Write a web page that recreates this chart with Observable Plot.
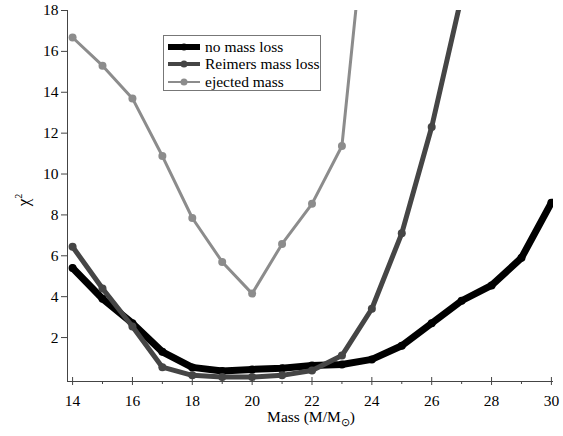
<!DOCTYPE html>
<html><head><meta charset="utf-8">
<script src="https://cdn.jsdelivr.net/npm/d3@7"></script>
<script src="https://cdn.jsdelivr.net/npm/@observablehq/plot@0.6"></script>
<style>
body{margin:0;background:#fff;font-family:'Liberation Serif',serif;}
#wrap{position:relative;width:563px;height:436px;}
#legend{position:absolute;left:163px;top:35px;width:158px;height:56px;border:1px solid #777;background:#fff;font-family:'Liberation Serif',serif;font-size:15.5px;box-sizing:border-box;padding-top:2px;}
#legend .row{display:flex;align-items:center;height:17.5px;}
#legend svg{margin-left:3px;margin-right:4px;}
svg text{font-family:'Liberation Serif',serif;}
</style></head>
<body><div id="wrap"><div id="legend"></div></div>
<script>
const masses = [14,15,16,17,18,19,20,21,22,23,24,25,26,27,28,29,30];
const noMassLoss = [5.4,3.9,2.7,1.3,0.54,0.36,0.44,0.5,0.63,0.68,0.93,1.6,2.7,3.8,4.55,5.9,8.6];
const reimersMasses = [14,15,16,17,18,19,20,21,22,23,24,25,26,27];
const reimersMassLoss = [6.44,4.4,2.54,0.55,0.15,0.07,0.07,0.15,0.39,1.12,3.41,7.1,12.3,18.7];
const ejectedMasses = [14,15,16,17,18,19,20,21,22,23,24];
const ejectedMass = [16.68,15.3,13.7,10.88,7.85,5.7,4.15,6.58,8.54,11.37,25.7];
const seriesNames = ["no mass loss","Reimers mass loss","ejected mass"];
const xTicks = [14,16,18,20,22,24,26,28,30];
const xMinorTicks = [15,17,19,21,23,25,27,29];
const yTicks = [2,4,6,8,10,12,14,16,18];

const FONT = "'Liberation Serif', serif";
const styles = [
  {stroke:"#000000", width:7, r:4},
  {stroke:"#454545", width:5, r:4},
  {stroke:"#8c8c8c", width:3, r:4}
];
const series = [
  masses.map((m,i)=>({m, v:noMassLoss[i]})),
  reimersMasses.map((m,i)=>({m, v:reimersMassLoss[i]})),
  ejectedMasses.map((m,i)=>({m, v:ejectedMass[i]}))
];
const xDomain = [13.83, 30.07], yDomain = [-0.15, 18];

const marks = [
  Plot.ruleY([yDomain[0]], {stroke:"#444"}),
  Plot.ruleX([xDomain[0]], {stroke:"#444"}),
  Plot.axisX({ticks:xTicks, tickSize:4, tickPadding:9, label:null, stroke:"#444", fill:"#000", fontSize:15.5}),
  Plot.axisX({ticks:xTicks, tickSize:-4, tickFormat:()=>"", label:null, stroke:"#444"}),
  Plot.axisX({ticks:xMinorTicks, tickSize:3, tickFormat:()=>"", label:null, stroke:"#444"}),
  Plot.axisY({ticks:yTicks, tickSize:6, tickPadding:3, label:null, stroke:"#444", fill:"#000", fontSize:15.5})
];
series.forEach((d,i)=>{
  marks.push(Plot.line(d, {x:"m", y:"v", stroke:styles[i].stroke, strokeWidth:styles[i].width, strokeLinejoin:"round", strokeLinecap:"round", clip:true}));
  marks.push(Plot.dot(d, {x:"m", y:"v", r:styles[i].r, fill:styles[i].stroke, clip:true}));
});

const plot = Plot.plot({
  width:563, height:436, marginLeft:67, marginRight:10, marginTop:10, marginBottom:55,
  style:{fontFamily:FONT, fontSize:"15.5px", background:"white", color:"#000"},
  x:{domain:xDomain}, y:{domain:yDomain},
  marks
});
document.getElementById("wrap").prepend(plot);

const svg = d3.select(plot);
const xl = svg.append("text").attr("x", 311).attr("y", 422).attr("text-anchor","middle").attr("fill","#000")
  .style("font-family",FONT).style("font-size","15.5px");
xl.append("tspan").text("Mass (M/M");
xl.append("tspan").attr("font-size","11px").attr("dy", 4).text("\u2299");
xl.append("tspan").attr("dy", -4).text(")");
const yl = svg.append("text").attr("transform","translate(29,200) rotate(-90)").attr("text-anchor","middle").attr("fill","#000")
  .style("font-family",FONT).style("font-size","17px");
yl.append("tspan").text("\u03c7");
yl.append("tspan").attr("font-size","10px").attr("dy",-7).text("2");

const leg = d3.select("#legend");
seriesNames.forEach((name,i)=>{
  const row = leg.append("div").attr("class","row");
  const s = row.append("svg").attr("width",34).attr("height",12);
  s.append("line").attr("x1",1).attr("x2",33).attr("y1",6).attr("y2",6)
    .attr("stroke",styles[i].stroke).attr("stroke-width",styles[i].width-1);
  s.append("circle").attr("cx",17).attr("cy",6).attr("r",3.5).attr("fill",styles[i].stroke);
  row.append("span").text(name);
});
</script></body></html>
